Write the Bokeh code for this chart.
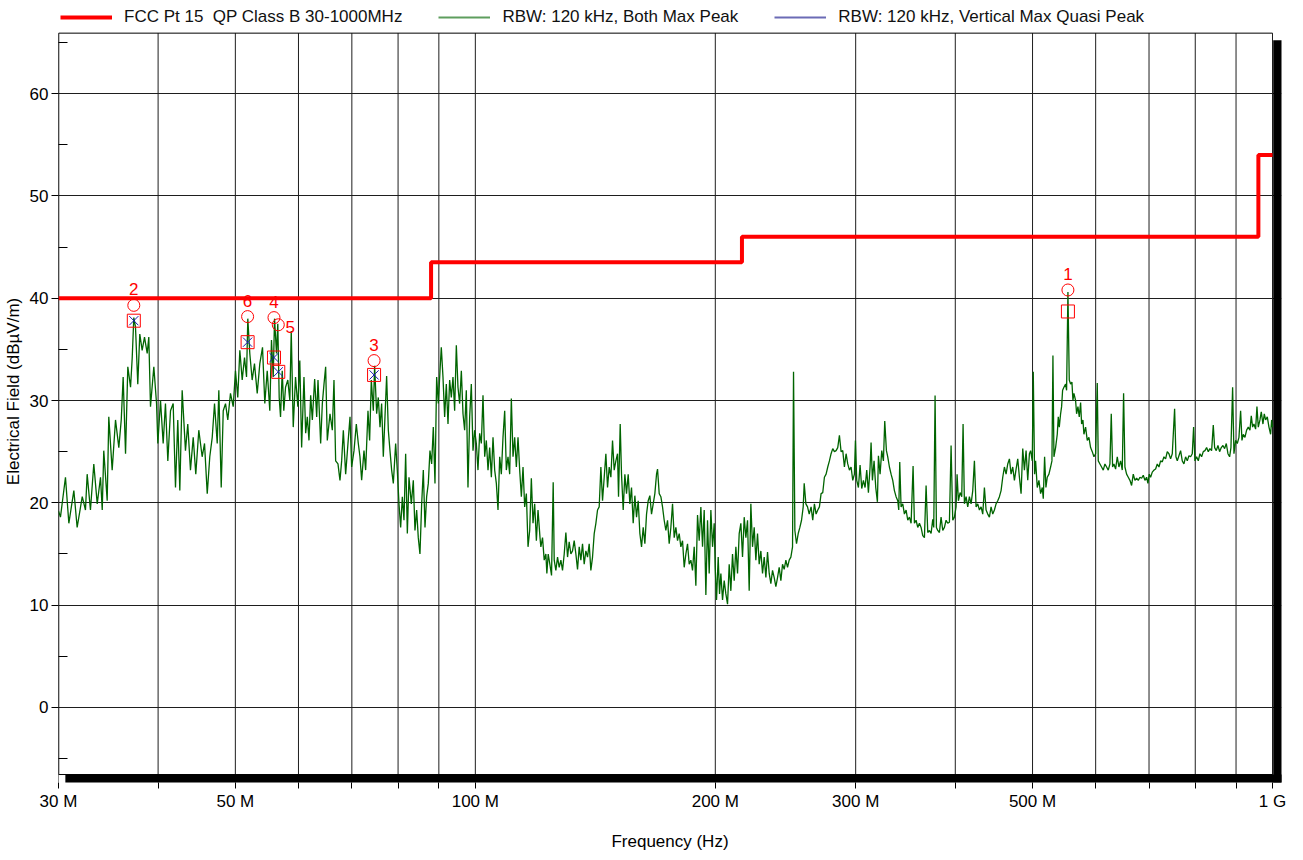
import json
from bokeh.plotting import figure
from bokeh.models import (FixedTicker, CustomJSTickFormatter, Legend, LegendItem, Range1d)
from bokeh.embed import file_html
from bokeh.resources import INLINE
from bokeh.core.properties import value

FONT = "Liberation Sans"
TXT = "17px"

# ---------------- data ----------------
freq_mhz = [
    30.00, 30.17, 30.61, 30.91, 31.36, 31.66, 32.13, 32.43, 32.59, 32.90,
    33.22, 33.55, 33.87, 34.04, 34.19, 34.53, 34.69, 35.03, 35.37, 35.71,
    35.96, 36.16, 36.41, 36.65, 36.94, 37.12, 37.29, 37.47, 37.72, 37.94,
    38.20, 38.46, 38.76, 38.94, 39.13, 39.51, 39.82, 39.97, 40.28, 40.59,
    40.86, 41.14, 41.46, 41.78, 42.06, 42.34, 42.59, 42.88, 43.29, 43.58,
    43.92, 44.27, 44.60, 44.99, 45.43, 45.74, 46.10, 46.44, 46.77, 47.08,
    47.45, 47.67, 48.00, 48.28, 48.60, 48.92, 49.30, 49.69, 50.02, 50.35,
    50.65, 51.00, 51.34, 51.64, 51.83, 52.13, 52.49, 52.84, 53.26, 53.66,
    54.08, 54.44, 54.82, 55.23, 55.50, 55.78, 55.99, 56.31, 56.52, 56.75,
    56.97, 57.25, 57.51, 57.80, 58.18, 58.52, 58.76, 59.10, 59.49, 59.89,
    60.23, 60.55, 60.96, 61.26, 61.55, 61.85, 62.15, 62.45, 62.87, 63.24,
    63.48, 63.97, 64.28, 64.59, 64.90, 65.21, 65.72, 66.16, 66.48, 66.80,
    67.25, 67.64, 67.97, 68.30, 68.76, 69.22, 69.63, 69.96, 70.44, 70.91,
    71.32, 71.66, 72.01, 72.50, 72.85, 73.34, 73.69, 74.05, 74.48, 74.76,
    75.20, 75.56, 75.93, 76.29, 76.66, 77.03, 77.40, 77.78, 78.15, 78.53,
    78.91, 79.44, 79.82, 80.21, 80.60, 80.99, 81.38, 81.77, 82.17, 82.56,
    83.12, 83.60, 84.00, 84.41, 84.81, 85.22, 85.64, 86.05, 86.47, 86.88,
    87.30, 87.72, 88.15, 88.57, 89.00, 89.43, 89.86, 90.30, 90.64, 91.08,
    91.52, 91.96, 92.41, 92.85, 93.30, 93.75, 94.20, 94.66, 95.11, 95.57,
    96.04, 96.50, 96.96, 97.43, 97.90, 98.38, 98.85, 99.33, 99.81, 100.29,
    100.77, 101.26, 101.75, 102.24, 102.74, 103.23, 103.73, 104.23, 104.74, 105.24,
    105.75, 106.26, 106.77, 107.29, 107.80, 108.32, 108.85, 109.37, 109.90, 110.43,
    110.96, 111.50, 112.04, 112.58, 113.12, 113.67, 114.22, 114.77, 115.32, 115.88,
    116.44, 117.00, 117.56, 118.13, 118.70, 119.28, 119.85, 120.54, 120.84, 121.42,
    122.01, 122.60, 122.95, 123.43, 124.02, 124.62, 125.22, 125.59, 126.19, 126.80,
    127.41, 128.03, 128.64, 129.27, 129.89, 130.52, 131.14, 131.78, 132.41, 133.05,
    133.70, 134.34, 134.99, 135.64, 136.29, 136.95, 137.61, 138.28, 138.94, 139.61,
    140.29, 140.97, 141.65, 142.33, 143.01, 143.71, 144.40, 145.10, 145.80, 146.50,
    147.21, 147.92, 148.63, 149.35, 150.07, 150.79, 151.23, 151.96, 152.54, 153.28,
    154.02, 154.76, 155.51, 156.26, 157.01, 157.77, 158.53, 159.30, 160.07, 160.84,
    161.62, 162.40, 163.18, 163.97, 164.76, 165.55, 166.35, 167.16, 167.96, 168.77,
    169.26, 170.08, 170.90, 171.72, 172.55, 173.38, 174.22, 175.06, 175.91, 176.76,
    177.61, 178.47, 179.33, 180.19, 181.06, 181.94, 182.81, 183.70, 184.58, 185.47,
    186.37, 187.27, 188.17, 189.08, 189.99, 190.91, 191.83, 192.76, 193.69, 194.62,
    195.56, 196.50, 197.45, 198.41, 199.36, 199.94, 200.71, 201.68, 202.46, 203.24,
    204.22, 205.20, 206.19, 207.19, 208.19, 209.19, 210.20, 211.22, 212.24, 213.26,
    214.29, 215.32, 216.36, 217.41, 218.46, 219.51, 220.57, 221.63, 222.70, 223.78,
    224.86, 225.94, 227.03, 228.13, 229.23, 230.34, 231.45, 232.56, 233.69, 234.81,
    235.95, 237.09, 238.23, 239.38, 240.53, 241.70, 242.86, 244.03, 245.21, 246.39,
    247.58, 248.78, 249.98, 250.70, 251.67, 252.88, 254.11, 255.33, 256.56, 257.80,
    258.55, 259.80, 261.05, 262.31, 263.74, 265.01, 266.29, 267.58, 268.87, 270.16,
    271.47, 272.78, 274.09, 275.42, 276.75, 278.08, 279.42, 280.77, 282.13, 283.49,
    284.86, 286.23, 287.61, 289.00, 290.39, 291.80, 293.21, 294.62, 296.04, 297.47,
    298.90, 299.77, 300.92, 302.37, 303.83, 305.30, 306.77, 308.25, 309.74, 311.24,
    312.74, 313.64, 314.85, 316.37, 317.90, 319.43, 320.36, 321.91, 323.46, 325.02,
    326.27, 327.85, 329.11, 330.70, 332.30, 333.90, 335.51, 337.13, 338.76, 339.74,
    340.72, 342.04, 343.69, 345.35, 347.02, 348.69, 350.37, 352.07, 354.10, 355.47,
    357.18, 358.91, 360.64, 362.38, 364.13, 365.89, 367.66, 369.43, 371.20, 373.00,
    374.80, 375.88, 377.33, 378.79, 380.24, 382.08, 383.92, 385.78, 387.64, 389.51,
    391.39, 393.28, 395.18, 397.08, 399.00, 400.92, 402.08, 403.63, 405.58, 407.54,
    409.11, 410.69, 412.67, 414.66, 416.66, 418.68, 420.70, 422.73, 424.77, 426.82,
    428.88, 430.95, 433.02, 435.11, 437.21, 439.32, 441.44, 443.57, 445.71, 447.86,
    450.02, 452.20, 454.38, 456.57, 458.77, 460.99, 463.21, 465.45, 467.69, 469.95,
    472.22, 474.50, 476.79, 479.09, 481.40, 483.72, 486.06, 488.40, 490.76, 493.13,
    495.51, 497.21, 499.61, 501.05, 502.99, 504.45, 506.88, 509.32, 511.78, 514.25,
    515.74, 517.72, 519.72, 521.73, 524.25, 526.78, 528.81, 530.34, 531.88, 534.44,
    537.02, 538.57, 540.13, 542.22, 543.79, 545.36, 547.46, 550.10, 551.69, 553.82,
    555.96, 558.10, 560.26, 561.88, 563.50, 566.22, 567.86, 570.06, 572.25, 574.46,
    576.12, 578.35, 580.02, 582.82, 585.63, 588.45, 591.29, 594.15, 597.02, 599.89,
    602.79, 604.53, 607.45, 610.38, 613.33, 616.29, 619.26, 622.25, 625.25, 627.66,
    630.09, 632.52, 635.57, 638.64, 641.72, 644.82, 647.93, 650.43, 652.94, 656.09,
    659.26, 662.44, 665.64, 668.85, 672.08, 675.33, 678.59, 681.86, 685.15, 688.46,
    691.78, 695.12, 697.80, 700.49, 703.20, 706.60, 710.01, 713.43, 716.88, 720.34,
    723.82, 727.31, 730.82, 734.35, 737.89, 741.45, 745.03, 748.63, 753.68, 756.59,
    759.50, 763.17, 766.85, 770.56, 774.28, 778.01, 781.77, 785.54, 789.33, 793.14,
    796.20, 799.28, 803.13, 807.01, 810.90, 814.82, 818.75, 822.70, 826.68, 830.67,
    834.68, 838.71, 842.75, 846.01, 850.09, 854.19, 858.31, 862.46, 866.62, 870.80,
    875.01, 879.23, 883.47, 886.88, 891.16, 894.60, 898.92, 903.26, 907.62, 912.00,
    915.51, 919.04, 923.47, 927.93, 932.41, 936.91, 940.53, 944.16, 947.80, 952.38,
    956.05, 959.74, 964.38, 968.10, 972.77, 976.52, 980.29, 985.03, 989.78, 994.56,
    997.43, 1000.00,
]

level_dbuv = [
    19.2, 18.6, 22.5, 18.0, 21.2, 17.6, 20.6, 19.3, 22.8, 19.3,
    23.8, 19.9, 22.5, 19.3, 25.1, 20.2, 28.4, 23.2, 28.1, 25.4,
    28.1, 32.3, 24.8, 33.3, 31.3, 34.2, 38.1, 37.2, 31.6, 36.5,
    34.9, 36.2, 34.6, 36.2, 29.4, 33.3, 29.7, 25.8, 30.0, 25.8,
    29.7, 24.1, 29.0, 29.7, 21.5, 28.1, 21.2, 31.0, 25.1, 27.7,
    23.2, 26.4, 22.8, 27.1, 24.5, 25.8, 20.9, 24.5, 26.4, 29.7,
    25.8, 31.0, 21.5, 29.0, 29.7, 28.1, 30.7, 29.4, 32.9, 30.3,
    34.9, 32.0, 34.2, 32.3, 38.0, 34.6, 32.0, 33.6, 30.7, 33.6,
    35.2, 29.7, 32.9, 29.0, 35.9, 32.3, 38.0, 34.6, 37.5, 30.3,
    28.4, 32.9, 29.0, 31.3, 32.0, 30.0, 36.8, 27.4, 32.3, 29.4,
    33.9, 25.4, 32.3, 26.8, 28.4, 26.1, 30.5, 28.1, 32.1, 28.4,
    32.0, 25.8, 29.7, 31.6, 33.3, 26.1, 28.7, 27.1, 32.0, 24.1,
    23.8, 22.2, 24.1, 27.1, 22.8, 25.8, 28.4, 23.5, 25.1, 27.7,
    25.8, 24.5, 22.2, 25.1, 23.2, 29.0, 26.1, 32.0, 29.0, 33.4,
    28.7, 30.3, 27.4, 29.7, 24.5, 28.4, 32.4, 27.1, 25.1, 23.2,
    21.9, 25.8, 23.2, 19.9, 17.6, 20.6, 18.3, 24.8, 17.0, 22.5,
    19.9, 22.2, 17.3, 19.3, 16.6, 15.0, 19.9, 23.2, 17.6, 20.6,
    21.9, 25.1, 23.8, 27.4, 21.9, 32.3, 29.7, 32.9, 35.2, 32.3,
    28.4, 31.6, 27.7, 32.0, 30.3, 32.3, 29.0, 35.4, 31.3, 29.7,
    32.9, 28.7, 27.1, 31.0, 21.5, 28.4, 31.6, 25.1, 27.1, 25.8,
    23.2, 26.8, 25.8, 30.5, 24.5, 26.1, 23.2, 25.4, 22.5, 26.4,
    23.2, 21.9, 19.3, 24.5, 22.8, 26.4, 29.0, 23.2, 24.5, 22.8,
    30.2, 24.5, 26.4, 23.5, 26.4, 23.2, 20.6, 23.5, 19.6, 20.9,
    15.7, 17.3, 22.4, 18.0, 19.9, 16.3, 19.3, 16.6, 15.7, 16.6,
    14.4, 15.0, 13.1, 15.0, 14.0, 12.9, 22.0, 14.4, 13.4, 14.7,
    13.7, 14.4, 13.4, 15.0, 17.1, 14.7, 16.2, 15.0, 15.3, 16.3,
    15.0, 13.5, 15.7, 14.4, 16.0, 14.0, 15.3, 14.7, 16.0, 13.4,
    14.7, 17.0, 18.0, 19.3, 19.6, 23.5, 20.2, 22.5, 24.8, 21.5,
    23.5, 22.5, 26.1, 23.2, 24.1, 24.8, 20.6, 27.7, 22.8, 19.3,
    22.8, 20.9, 22.8, 19.9, 21.5, 18.0, 20.7, 18.6, 20.2, 17.0,
    15.7, 17.6, 16.0, 18.9, 20.2, 20.7, 18.9, 19.9, 20.9, 22.8,
    23.3, 20.9, 20.6, 19.6, 18.3, 17.3, 18.3, 16.0, 17.6, 19.9,
    16.6, 17.6, 16.3, 17.0, 15.7, 16.3, 13.7, 15.0, 16.0, 14.0,
    14.4, 13.4, 15.7, 11.9, 18.8, 16.3, 19.6, 15.7, 19.3, 11.0,
    18.3, 13.1, 19.3, 15.7, 18.0, 13.7, 10.5, 14.7, 11.1, 13.1,
    10.5, 12.4, 11.1, 10.1, 14.0, 11.4, 15.0, 12.4, 15.7, 13.1,
    17.0, 18.0, 14.7, 18.6, 16.6, 18.3, 11.4, 19.9, 15.7, 17.6,
    14.4, 17.0, 14.0, 15.3, 13.1, 14.7, 12.7, 15.2, 13.1, 12.1,
    13.4, 12.7, 11.8, 12.7, 13.7, 12.4, 14.0, 13.5, 14.4, 13.7,
    14.4, 14.7, 15.7, 32.8, 17.3, 16.0, 17.0, 17.6, 18.3, 19.6,
    21.9, 19.9, 19.6, 18.9, 19.6, 18.3, 19.9, 18.9, 19.3, 19.6,
    20.9, 21.0, 22.5, 22.8, 23.5, 24.1, 24.8, 25.3, 25.0, 25.1,
    25.4, 26.6, 25.0, 25.1, 23.5, 24.8, 23.8, 23.2, 23.5, 22.2,
    22.8, 26.1, 22.2, 21.5, 23.7, 21.4, 22.2, 21.5, 23.2, 21.0,
    23.5, 25.9, 22.2, 24.1, 21.5, 20.1, 24.6, 22.8, 25.1, 24.1,
    28.0, 25.1, 24.5, 23.5, 22.8, 22.2, 21.2, 20.6, 20.2, 19.3,
    24.0, 19.6, 19.9, 18.9, 19.3, 18.3, 18.6, 18.0, 23.6, 18.0,
    18.3, 17.6, 18.0, 17.6, 16.8, 16.6, 21.7, 17.1, 17.3, 17.0,
    18.4, 17.6, 30.5, 17.6, 17.3, 17.1, 18.6, 17.3, 17.6, 18.3,
    18.0, 18.1, 25.6, 18.3, 18.6, 19.6, 22.8, 20.2, 21.0, 20.6,
    27.7, 19.9, 20.6, 19.6, 20.6, 19.9, 21.2, 24.1, 19.6, 19.9,
    19.3, 19.6, 18.9, 21.5, 19.3, 18.9, 18.6, 19.6, 18.9, 19.3,
    19.9, 20.2, 20.6, 21.2, 22.5, 23.5, 22.8, 23.8, 24.3, 22.8,
    23.5, 22.2, 23.3, 24.3, 22.5, 20.9, 25.3, 23.2, 25.1, 22.2,
    24.8, 25.1, 24.1, 32.8, 22.8, 24.1, 21.5, 22.2, 20.9, 21.5,
    20.4, 24.5, 21.5, 22.5, 22.8, 23.5, 24.1, 34.4, 24.5, 25.4,
    26.7, 28.4, 27.4, 28.7, 29.4, 31.0, 31.3, 31.6, 31.0, 40.6,
    32.0, 31.6, 31.8, 30.0, 30.7, 30.0, 28.7, 29.4, 28.4, 29.8,
    27.7, 28.1, 26.7, 27.4, 26.1, 26.4, 25.4, 25.0, 24.5, 24.8,
    31.7, 24.1, 23.8, 23.5, 23.2, 23.8, 23.5, 23.2, 23.8, 28.7,
    23.5, 23.8, 23.3, 24.5, 23.5, 24.1, 23.2, 30.7, 23.5, 22.8,
    22.5, 22.2, 21.7, 22.8, 22.2, 22.4, 22.2, 22.5, 22.4, 22.7,
    22.2, 22.5, 21.9, 22.8, 22.5, 23.0, 23.2, 23.3, 23.8, 23.5,
    24.1, 24.0, 24.5, 24.3, 25.0, 24.8, 24.3, 24.8, 29.2, 24.5,
    24.1, 24.6, 25.1, 24.1, 23.8, 24.5, 24.1, 24.6, 24.5, 24.8,
    27.4, 24.1, 24.5, 24.1, 24.8, 24.5, 25.0, 25.1, 25.4, 25.0,
    25.3, 25.1, 27.6, 25.4, 25.1, 25.6, 25.0, 25.4, 25.6, 25.3,
    25.8, 24.8, 24.5, 25.4, 31.3, 24.8, 26.1, 25.8, 26.4, 29.0,
    26.1, 26.7, 26.4, 27.1, 27.4, 27.1, 28.5, 27.4, 27.7, 27.2,
    29.4, 27.4, 28.1, 28.9, 27.7, 28.7, 28.1, 28.4, 27.4, 26.7,
    28.1, 27.4,
]

limit_freq = [30, 88, 88, 216, 216, 960, 960, 1000]
limit_level = [40, 40, 43.5, 43.5, 46, 46, 54, 54]

marker_ids = ["1", "2", "3", "4", "6"]
marker_freq = [553.8, 37.29, 74.64, 55.9, 51.8]
peak_level = [40.8, 39.3, 33.9, 38.1, 38.2]
qp_level = [38.7, 37.8, 32.5, 34.2, 35.7]
marker5_id = ["5"]
marker5_freq = [56.6]
marker5_peak = [37.4]
marker5_qp = [32.8]
vqp_freq = [37.29, 74.64, 55.9, 56.6, 51.8]
vqp_level = [37.8, 32.5, 34.2, 32.8, 35.7]

x_ticks = [30, 40, 50, 60, 70, 80, 90, 100, 200, 300, 400, 500, 600, 700, 800, 900, 1000]
x_tick_labels = {30: "30 M", 50: "50 M", 100: "100 M", 200: "200 M",
                 300: "300 M", 500: "500 M", 1000: "1 G"}
y_ticks = [0, 10, 20, 30, 40, 50, 60]
y_minor_ticks = [-5, 5, 15, 25, 35, 45, 55, 65]

legend_labels = ["FCC Pt 15  QP Class B 30-1000MHz",
                 "RBW: 120 kHz, Both Max Peak",
                 "RBW: 120 kHz, Vertical Max Quasi Peak"]
x_title = "Frequency (Hz)"
y_title = "Electrical Field (dBµV/m)"

# ---------------- figure geometry ----------------
# The frame reaches up to the top of the canvas so the legend can sit inside it,
# above the visible plot box (which is drawn by hand from 65.9 down to -6.55).
X_MIN, X_MAX, X_END = 30.0, 1000.0, 1026.3
Y_TOP_LINE, Y_BOT_LINE, Y_END, Y_START = 65.9, -6.55, 69.09, -7.33
FRAME_H = 782

p = figure(x_axis_type="log",
           x_range=Range1d(X_MIN, X_END), y_range=Range1d(Y_START, Y_END),
           width=1300, height=860,
           min_border_left=58, min_border_right=19, min_border_top=0, min_border_bottom=78,
           output_backend="svg", toolbar_location=None,
           background_fill_color="white", border_fill_color="white")
p.outline_line_color = None

# grids: horizontal via the grid, vertical drawn only inside the plot box
p.xgrid.visible = False
p.ygrid.ticker = FixedTicker(ticks=y_ticks)
p.ygrid.grid_line_color = "#1e1e1e"
p.ygrid.grid_line_width = 1
p.segment(x0=x_ticks, y0=[Y_START] * len(x_ticks), x1=x_ticks, y1=[Y_TOP_LINE] * len(x_ticks),
          line_color="#1e1e1e", line_width=1)

# x axis
xa = p.xaxis[0]
xa.ticker = FixedTicker(ticks=x_ticks, minor_ticks=[])
lab_js = json.dumps({str(k): v for k, v in x_tick_labels.items()})
xa.formatter = CustomJSTickFormatter(
    code=f"const m = {lab_js}; const k = String(Math.round(tick)); return (k in m) ? m[k] : '';")
xa.axis_line_color = None
xa.major_tick_out = 6
xa.major_tick_in = 0
xa.minor_tick_out = 0
xa.minor_tick_in = 0
xa.major_tick_line_color = "black"
xa.major_label_standoff = 3
xa.major_label_text_font = FONT
xa.major_label_text_font_size = TXT
xa.major_label_text_color = "black"
xa.axis_label = x_title
xa.axis_label_text_font = FONT
xa.axis_label_text_font_size = TXT
xa.axis_label_text_font_style = "normal"
xa.axis_label_text_color = "black"
xa.axis_label_standoff = 18

# y axis
ya = p.yaxis[0]
ya.ticker = FixedTicker(ticks=y_ticks, minor_ticks=y_minor_ticks)
ya.axis_line_color = None
ya.major_tick_out = 7
ya.major_tick_in = 0
ya.minor_tick_out = 0
ya.minor_tick_in = 9
ya.major_tick_line_color = "black"
ya.minor_tick_line_color = "black"
ya.major_label_standoff = 3
ya.major_label_text_font = FONT
ya.major_label_text_font_size = TXT
ya.major_label_text_color = "black"
ya.axis_label = y_title
ya.axis_label_text_font = FONT
ya.axis_label_text_font_size = TXT
ya.axis_label_text_font_style = "normal"
ya.axis_label_text_color = "black"
ya.axis_label_standoff = 4

# plot box lines and drop shadow
p.line([X_MIN, X_MAX], [Y_TOP_LINE, Y_TOP_LINE], line_color="black", line_width=1)
p.line([X_MIN, X_MIN], [Y_BOT_LINE, Y_TOP_LINE], line_color="black", line_width=1.5)
p.line([X_MIN, X_MAX], [Y_BOT_LINE, Y_BOT_LINE], line_color="black", line_width=1)
p.quad(left=[1002.0], right=[X_END * 1.02], top=[65.2], bottom=[Y_START - 1],
       fill_color="black", line_color=None)
p.quad(left=[30.6], right=[X_END * 1.02], top=[Y_BOT_LINE], bottom=[Y_START - 1],
       fill_color="black", line_color=None)

# series
trace = p.line(freq_mhz, level_dbuv, line_color="#006400", line_width=1.3)
limit = p.line(limit_freq, limit_level, line_color="#ff0000", line_width=4)

# legend-only samples (placed below the visible range)
leg_green = p.line(x=[30, 31], y=[-50, -50], line_color="#5e9e5e", line_width=2)
leg_blue = p.line(x=[30, 31], y=[-50, -50], line_color="#6b6bb5", line_width=2)

# markers
p.scatter(marker_freq + marker5_freq, peak_level + marker5_peak, marker="circle", size=12,
          fill_color=None, line_color="#ff0000", line_width=1)
p.scatter(marker_freq + marker5_freq, qp_level + marker5_qp, marker="square", size=13,
          fill_color=None, line_color="#ff0000", line_width=1)
p.scatter(vqp_freq, vqp_level, marker="x", size=13, line_color="#1a1ab0", line_width=1)

p.text(x=marker_freq, y=peak_level, text=marker_ids, text_font=value(FONT),
       text_font_size=TXT, text_color="#ff0000", text_align="center",
       text_baseline="middle", y_offset=-16)
p.text(x=marker5_freq, y=marker5_peak, text=marker5_id, text_font=value(FONT),
       text_font_size=TXT, text_color="#ff0000", text_align="center",
       text_baseline="middle", x_offset=12, y_offset=2)

legend = Legend(items=[LegendItem(label=legend_labels[0], renderers=[limit]),
                       LegendItem(label=legend_labels[1], renderers=[leg_green]),
                       LegendItem(label=legend_labels[2], renderers=[leg_blue])],
                orientation="horizontal", location=(2, FRAME_H - 27),
                glyph_width=52, glyph_height=16, label_height=16,
                label_standoff=12, spacing=36, padding=0, margin=0,
                border_line_color=None, background_fill_alpha=0,
                label_text_font=FONT, label_text_font_size=TXT,
                label_text_color="#111111")
p.add_layout(legend)

open("out.html", "w").write(file_html(p, INLINE))
